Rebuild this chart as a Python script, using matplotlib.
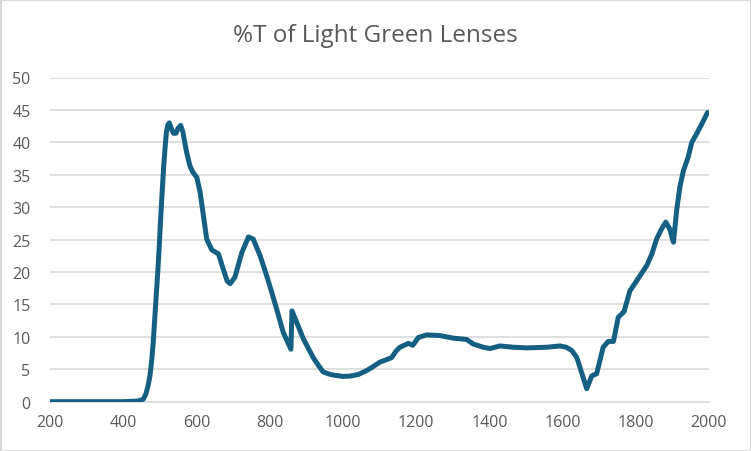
import matplotlib
matplotlib.use("Agg")
import matplotlib.pyplot as plt
from matplotlib.patches import Rectangle

title = "%T of Light Green Lenses"
wavelength = [200, 300, 400, 440, 455, 462, 468, 473, 478, 482, 488, 493, 498, 502, 506,
              510, 514, 518, 522, 526, 531, 537, 544, 550, 557, 563, 568, 573, 582, 590,
              601, 610, 619, 628, 642, 660, 673, 684, 692, 705, 724, 742, 755, 774, 792,
              806, 819, 837, 858, 861, 874, 892, 905, 919, 932, 946, 960, 974, 1000, 1020,
              1042, 1065, 1085, 1101, 1120, 1133, 1145, 1156, 1179, 1191, 1206, 1229, 1265,
              1302, 1338, 1356, 1383, 1402, 1429, 1465, 1502, 1557, 1593, 1610, 1625, 1639,
              1652, 1666, 1680, 1693, 1711, 1725, 1739, 1752, 1768, 1784, 1803, 1830, 1844,
              1857, 1870, 1882, 1893, 1903, 1912, 1921, 1930, 1943, 1953, 1966, 1980, 1996]
transmission = [0, 0, 0, 0.1, 0.4, 1.2, 2.5, 4.0, 6.5, 9.2, 14.5, 18.8, 23.5, 28.0, 32.0,
                35.8, 39.0, 41.6, 42.7, 43.0, 42.2, 41.4, 41.4, 42.2, 42.6, 41.6, 40.0, 38.5,
                36.4, 35.4, 34.6, 32.3, 28.7, 25.1, 23.4, 22.8, 20.5, 18.6, 18.2, 19.2, 23.0,
                25.4, 25.1, 22.5, 19.4, 16.8, 14.3, 10.7, 8.1, 14.0, 12.2, 9.7, 8.3, 6.8, 5.7,
                4.6, 4.3, 4.1, 3.9, 3.95, 4.2, 4.8, 5.5, 6.1, 6.5, 6.8, 7.8, 8.4, 9.0, 8.7,
                9.9, 10.3, 10.2, 9.8, 9.6, 8.9, 8.4, 8.2, 8.6, 8.4, 8.3, 8.4, 8.6, 8.4, 7.9,
                6.8, 4.5, 2.0, 4.0, 4.3, 8.4, 9.3, 9.3, 13.0, 13.9, 17.1, 18.7, 21.0, 22.8,
                25.1, 26.6, 27.7, 26.6, 24.6, 29.7, 33.3, 35.6, 37.7, 40.0, 41.3, 42.8, 44.6]
x_ticks = [200, 400, 600, 800, 1000, 1200, 1400, 1600, 1800, 2000]
y_ticks = [0, 5, 10, 15, 20, 25, 30, 35, 40, 45, 50]

plt.rcParams['font.family'] = ['Open Sans', 'DejaVu Sans']

fig = plt.figure(figsize=(7.51, 4.52), dpi=100)
ax = fig.add_axes([50/751, 1 - 402.7/452, (709-50)/751, (402.7-78.5)/452])

ax.plot(wavelength, transmission, color="#156082", linewidth=3.6,
        solid_capstyle="round", solid_joinstyle="round", zorder=3)

ax.set_xlim(200, 2000)
ax.set_ylim(0, 50)
ax.set_xticks(x_ticks)
ax.set_yticks(y_ticks)
ax.set_xticklabels([str(v) for v in x_ticks])
ax.set_yticklabels([str(v) for v in y_ticks])
ax.grid(axis="y", color="#D9D9D9", linewidth=1.2)
ax.grid(axis="x", visible=False)
ax.set_axisbelow(True)
for s in ["top", "right", "left"]:
    ax.spines[s].set_visible(False)
ax.spines["bottom"].set_color("#D9D9D9")
ax.spines["bottom"].set_linewidth(1.2)
ax.tick_params(axis="both", length=0, labelsize=11.5, colors="#595959")
ax.tick_params(axis="x", pad=9)
ax.tick_params(axis="y", pad=14)

fig.text(0.5, 1 - 36/452, title, ha="center", va="center", fontsize=17.5, color="#595959")
fig.patches.append(Rectangle((0.5/751, 0.5/452), 1 - 1/751, 1 - 1/452, transform=fig.transFigure,
                             fill=False, edgecolor="#D9D9D9", linewidth=1.5))

fig.savefig("out.png", dpi=100, facecolor="white")
